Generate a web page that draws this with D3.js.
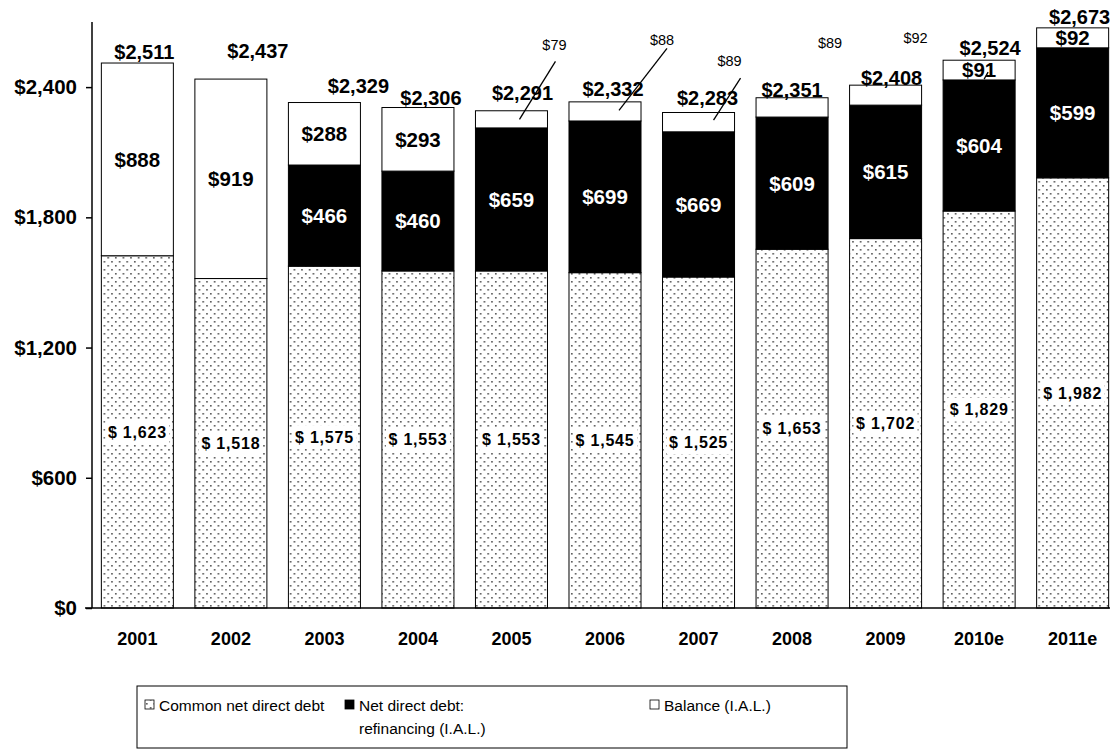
<!DOCTYPE html>
<html>
<head>
<meta charset="utf-8">
<script src="https://cdn.jsdelivr.net/npm/d3@7"></script>
<style>
  body { margin: 0; background: #fff; }
  text { font-family: Arial, 'Liberation Sans', sans-serif; }
</style>
</head>
<body>
<div id="chart"></div>
<script>
// Data
const years = ['2001', '2002', '2003', '2004', '2005', '2006', '2007', '2008', '2009', '2010e', '2011e'];
const commonDebt = [1623, 1518, 1575, 1553, 1553, 1545, 1525, 1653, 1702, 1829, 1982];
const refinancing = [0, 0, 466, 460, 659, 699, 669, 609, 615, 604, 599];
const balance = [888, 919, 288, 293, 79, 88, 89, 89, 92, 91, 92];
const totals = [2511, 2437, 2329, 2306, 2291, 2332, 2283, 2351, 2408, 2524, 2673];
const yTicks = [0, 600, 1200, 1800, 2400];
const keys = ['common', 'refinancing', 'balance'];
const legendNames = [['Common net direct debt'], ['Net direct debt:', 'refinancing (I.A.L.)'], ['Balance (I.A.L.)']];

// Label placement (hand-placed in the original chart)
const totalOffsets = [[7, -4], [27, -21], [34, -10], [13, -3], [11, -11], [8, -6], [9, -8], [0, -1], [6, 0], [11, -5], [7, -4]];
// balance callouts, relative to bar centre / segment middle
const balanceCallouts = {
  4: { label: [43, -75], line: [8, 0, 44, -58] },
  5: { label: [57, -72], line: [14, -1, 62, -63] },
  6: { label: [31, -61], line: [15, -2, 42, -44] },
  7: { label: [38, -65] },
  8: { label: [30, -57] },
};

const width = 1110, height = 752;
const fmt = d3.format(',');

const table = years.map((year, i) => ({
  year,
  common: commonDebt[i],
  refinancing: refinancing[i],
  balance: balance[i],
  total: totals[i],
}));

const svg = d3.select('#chart').append('svg')
  .attr('width', width)
  .attr('height', height)
  .attr('viewBox', `0 0 ${width} ${height}`);

// Dotted fill for the common debt
const defs = svg.append('defs');
const pat = defs.append('pattern')
  .attr('id', 'dots')
  .attr('patternUnits', 'userSpaceOnUse')
  .attr('width', 7.6)
  .attr('height', 8);
pat.append('rect').attr('width', 7.6).attr('height', 8).attr('fill', '#fff');
pat.append('rect').attr('x', 1).attr('y', 1).attr('width', 1.6).attr('height', 1.6).attr('fill', '#555');
pat.append('rect').attr('x', 4.8).attr('y', 5).attr('width', 1.6).attr('height', 1.6).attr('fill', '#555');

const x = d3.scaleBand()
  .domain(years)
  .range([92, 1118])
  .paddingInner(0.23)
  .paddingOuter(0.1);

const y = d3.scaleLinear()
  .domain([0, 2700])
  .range([608, 22]);

const fills = { common: 'url(#dots)', refinancing: '#000', balance: '#fff' };

const stacked = d3.stack().keys(keys)(table);

// Bars
const layers = svg.selectAll('.layer')
  .data(stacked)
  .enter()
  .append('g')
  .attr('class', 'layer')
  .attr('fill', (d) => fills[d.key]);

layers.selectAll('rect')
  .data((d) => d)
  .enter()
  .append('rect')
  .attr('x', (d) => x(d.data.year))
  .attr('width', x.bandwidth())
  .attr('y', (d) => y(d[1]))
  .attr('height', (d) => y(d[0]) - y(d[1]))
  .attr('stroke', (d) => (d[1] - d[0] > 0 ? '#000' : 'none'))
  .attr('stroke-width', 1);

// Y axis
const yAxis = svg.append('g')
  .attr('transform', 'translate(92,0)')
  .call(d3.axisLeft(y).tickValues(yTicks).tickSize(6).tickPadding(9)
    .tickFormat((d) => '$' + fmt(d)));
yAxis.select('.domain').attr('d', `M0,${y(0)}V22`).attr('stroke-width', 1.5);
yAxis.selectAll('.tick line').attr('stroke-width', 1.5);
yAxis.selectAll('.tick text')
  .style('font-size', '20.5px')
  .style('font-weight', 'bold')
  .attr('fill', '#000');

// X axis
const xAxis = svg.append('g')
  .attr('transform', `translate(0,${y(0)})`)
  .call(d3.axisBottom(x).tickSize(0).tickPadding(24));
xAxis.select('.domain').attr('d', 'M85,0H1118').attr('stroke-width', 1.5);
xAxis.selectAll('.tick text')
  .style('font-size', '18px')
  .style('font-weight', 'bold')
  .attr('fill', '#000');

const cx = (d) => x(d.year) + x.bandwidth() / 2;

// Common debt labels (white box behind)
const commonLabels = svg.append('g').selectAll('g')
  .data(table)
  .enter()
  .append('g')
  .attr('transform', (d) => `translate(${cx(d)},${y(d.common / 2)})`);
commonLabels.append('rect')
  .attr('x', -32).attr('y', -12).attr('width', 64).attr('height', 24)
  .attr('fill', '#fff');
commonLabels.append('text')
  .attr('text-anchor', 'middle')
  .attr('dy', '0.36em')
  .style('font-size', '16px')
  .style('font-weight', 'bold')
  .style('letter-spacing', '0.8px')
  .text((d) => '$ ' + fmt(d.common));

// Refinancing labels
svg.append('g').selectAll('text')
  .data(table.filter((d) => d.refinancing > 0))
  .enter()
  .append('text')
  .attr('x', cx)
  .attr('y', (d) => y(d.common + d.refinancing / 2))
  .attr('dy', '0.36em')
  .attr('text-anchor', 'middle')
  .attr('fill', '#fff')
  .style('font-size', '20.5px')
  .style('font-weight', 'bold')
  .text((d) => '$' + fmt(d.refinancing));

// Balance labels
const balMid = (d) => y(d.common + d.refinancing + d.balance / 2);
table.forEach((d, i) => {
  const c = balanceCallouts[i];
  if (c) {
    if (c.line) {
      svg.append('line')
        .attr('x1', cx(d) + c.line[0]).attr('y1', balMid(d) + c.line[1])
        .attr('x2', cx(d) + c.line[2]).attr('y2', balMid(d) + c.line[3])
        .attr('stroke', '#000').attr('stroke-width', 1.3);
    }
    svg.append('text')
      .attr('x', cx(d) + c.label[0])
      .attr('y', balMid(d) + c.label[1])
      .attr('dy', '0.36em')
      .attr('text-anchor', 'middle')
      .style('font-size', '14.5px')
      .text('$' + fmt(d.balance));
  } else {
    if (d.year === '2010e') {
      svg.append('line')
        .attr('x1', cx(d) + 5).attr('y1', balMid(d) + 9)
        .attr('x2', cx(d) + 9).attr('y2', balMid(d) + 2)
        .attr('stroke', '#000').attr('stroke-width', 1.3);
    }
    svg.append('text')
      .attr('x', cx(d))
      .attr('y', balMid(d))
      .attr('dy', '0.36em')
      .attr('text-anchor', 'middle')
      .style('font-size', '20.5px')
      .style('font-weight', 'bold')
      .text('$' + fmt(d.balance));
  }
});

// Totals
svg.append('g').selectAll('text')
  .data(table)
  .enter()
  .append('text')
  .attr('x', (d, i) => cx(d) + totalOffsets[i][0])
  .attr('y', (d, i) => y(d.total) + totalOffsets[i][1])
  .attr('text-anchor', 'middle')
  .style('font-size', '20px')
  .style('font-weight', 'bold')
  .text((d) => '$' + fmt(d.total));

// Legend
const legend = svg.append('g').attr('transform', 'translate(137,686)');
legend.append('rect')
  .attr('width', 710).attr('height', 62)
  .attr('fill', '#fff').attr('stroke', '#000').attr('stroke-width', 1);

const legendX = [8, 208, 513];
const items = legend.selectAll('.item')
  .data(keys)
  .enter()
  .append('g')
  .attr('class', 'item')
  .attr('transform', (k, i) => `translate(${legendX[i]},0)`);

items.append('rect')
  .attr('x', 0).attr('y', 14).attr('width', 9).attr('height', 9)
  .attr('fill', (k) => fills[k])
  .attr('stroke', '#000').attr('stroke-width', 0.8);

items.append('text')
  .attr('x', 14)
  .attr('y', 25)
  .style('font-size', '15.5px')
  .selectAll('tspan')
  .data((k, i) => legendNames[i])
  .enter()
  .append('tspan')
  .attr('x', 14)
  .attr('dy', (t, j) => (j === 0 ? 0 : 23))
  .text((t) => t);
</script>
</body>
</html>
